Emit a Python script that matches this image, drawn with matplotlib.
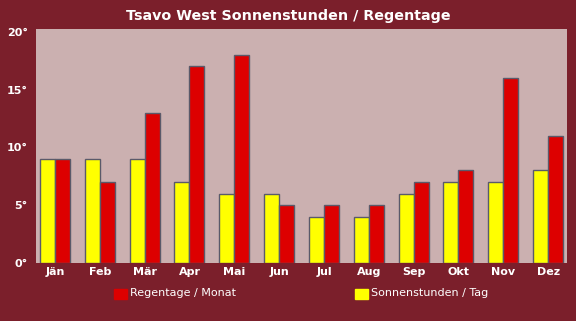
import matplotlib
matplotlib.use("Agg")
import matplotlib.pyplot as plt
import numpy as np
from matplotlib.patches import Rectangle

months = ['Jän', 'Feb', 'Mär', 'Apr', 'Mai', 'Jun', 'Jul', 'Aug', 'Sep', 'Okt', 'Nov', 'Dez']
sonne = [9, 9, 9, 7, 6, 6, 4, 4, 6, 7, 7, 8]
regen = [9, 7, 13, 17, 18, 5, 5, 5, 7, 8, 16, 11]
yticks = [0, 5, 10, 15, 20]

bg = '#7b1f2b'
face = '#cbb0b0'
yellow = '#ffff00'
red = '#dd0000'
edge = '#5a5a6a'

fig = plt.figure(figsize=(5.76, 3.21), dpi=100, facecolor=bg)
ax = fig.add_axes([0.0625, 0.181, 0.922, 0.729])
ax.set_facecolor(face)

x = np.arange(len(months))
w = 0.335
ax.bar(x - w / 2, sonne, w, color=yellow, edgecolor=edge, linewidth=1)
ax.bar(x + w / 2, regen, w, color=red, edgecolor=edge, linewidth=1)

ax.set_xlim(-0.424, 11.424)
ax.set_ylim(0, 20.25)
ax.set_yticks(yticks)
ax.set_yticklabels([f'{v}°' for v in yticks])
ax.set_xticks(x)
ax.set_xticklabels(months)
ax.tick_params(length=0, colors='white', labelsize=8)
ax.tick_params(axis='y', pad=6)
ax.tick_params(axis='x', pad=3)
for lab in ax.get_xticklabels() + ax.get_yticklabels():
    lab.set_fontweight('bold')
for s in ax.spines.values():
    s.set_visible(False)

fig.text(0.5, 0.95, 'Tsavo West Sonnenstunden / Regentage', color='white',
         fontsize=10.3, fontweight='bold', ha='center', va='center')

# legend at the bottom
fig.patches.append(Rectangle((114 / 576, 1 - 299 / 321), 13 / 576, 10 / 321,
                             transform=fig.transFigure, color=red))
fig.text(130 / 576, 1 - 293 / 321, 'Regentage / Monat', color='white',
         fontsize=8, va='center')
fig.patches.append(Rectangle((355 / 576, 1 - 299 / 321), 13 / 576, 10 / 321,
                             transform=fig.transFigure, color=yellow))
fig.text(371 / 576, 1 - 293 / 321, 'Sonnenstunden / Tag', color='white',
         fontsize=8, va='center')

fig.savefig('out.png', dpi=100, facecolor=bg)
